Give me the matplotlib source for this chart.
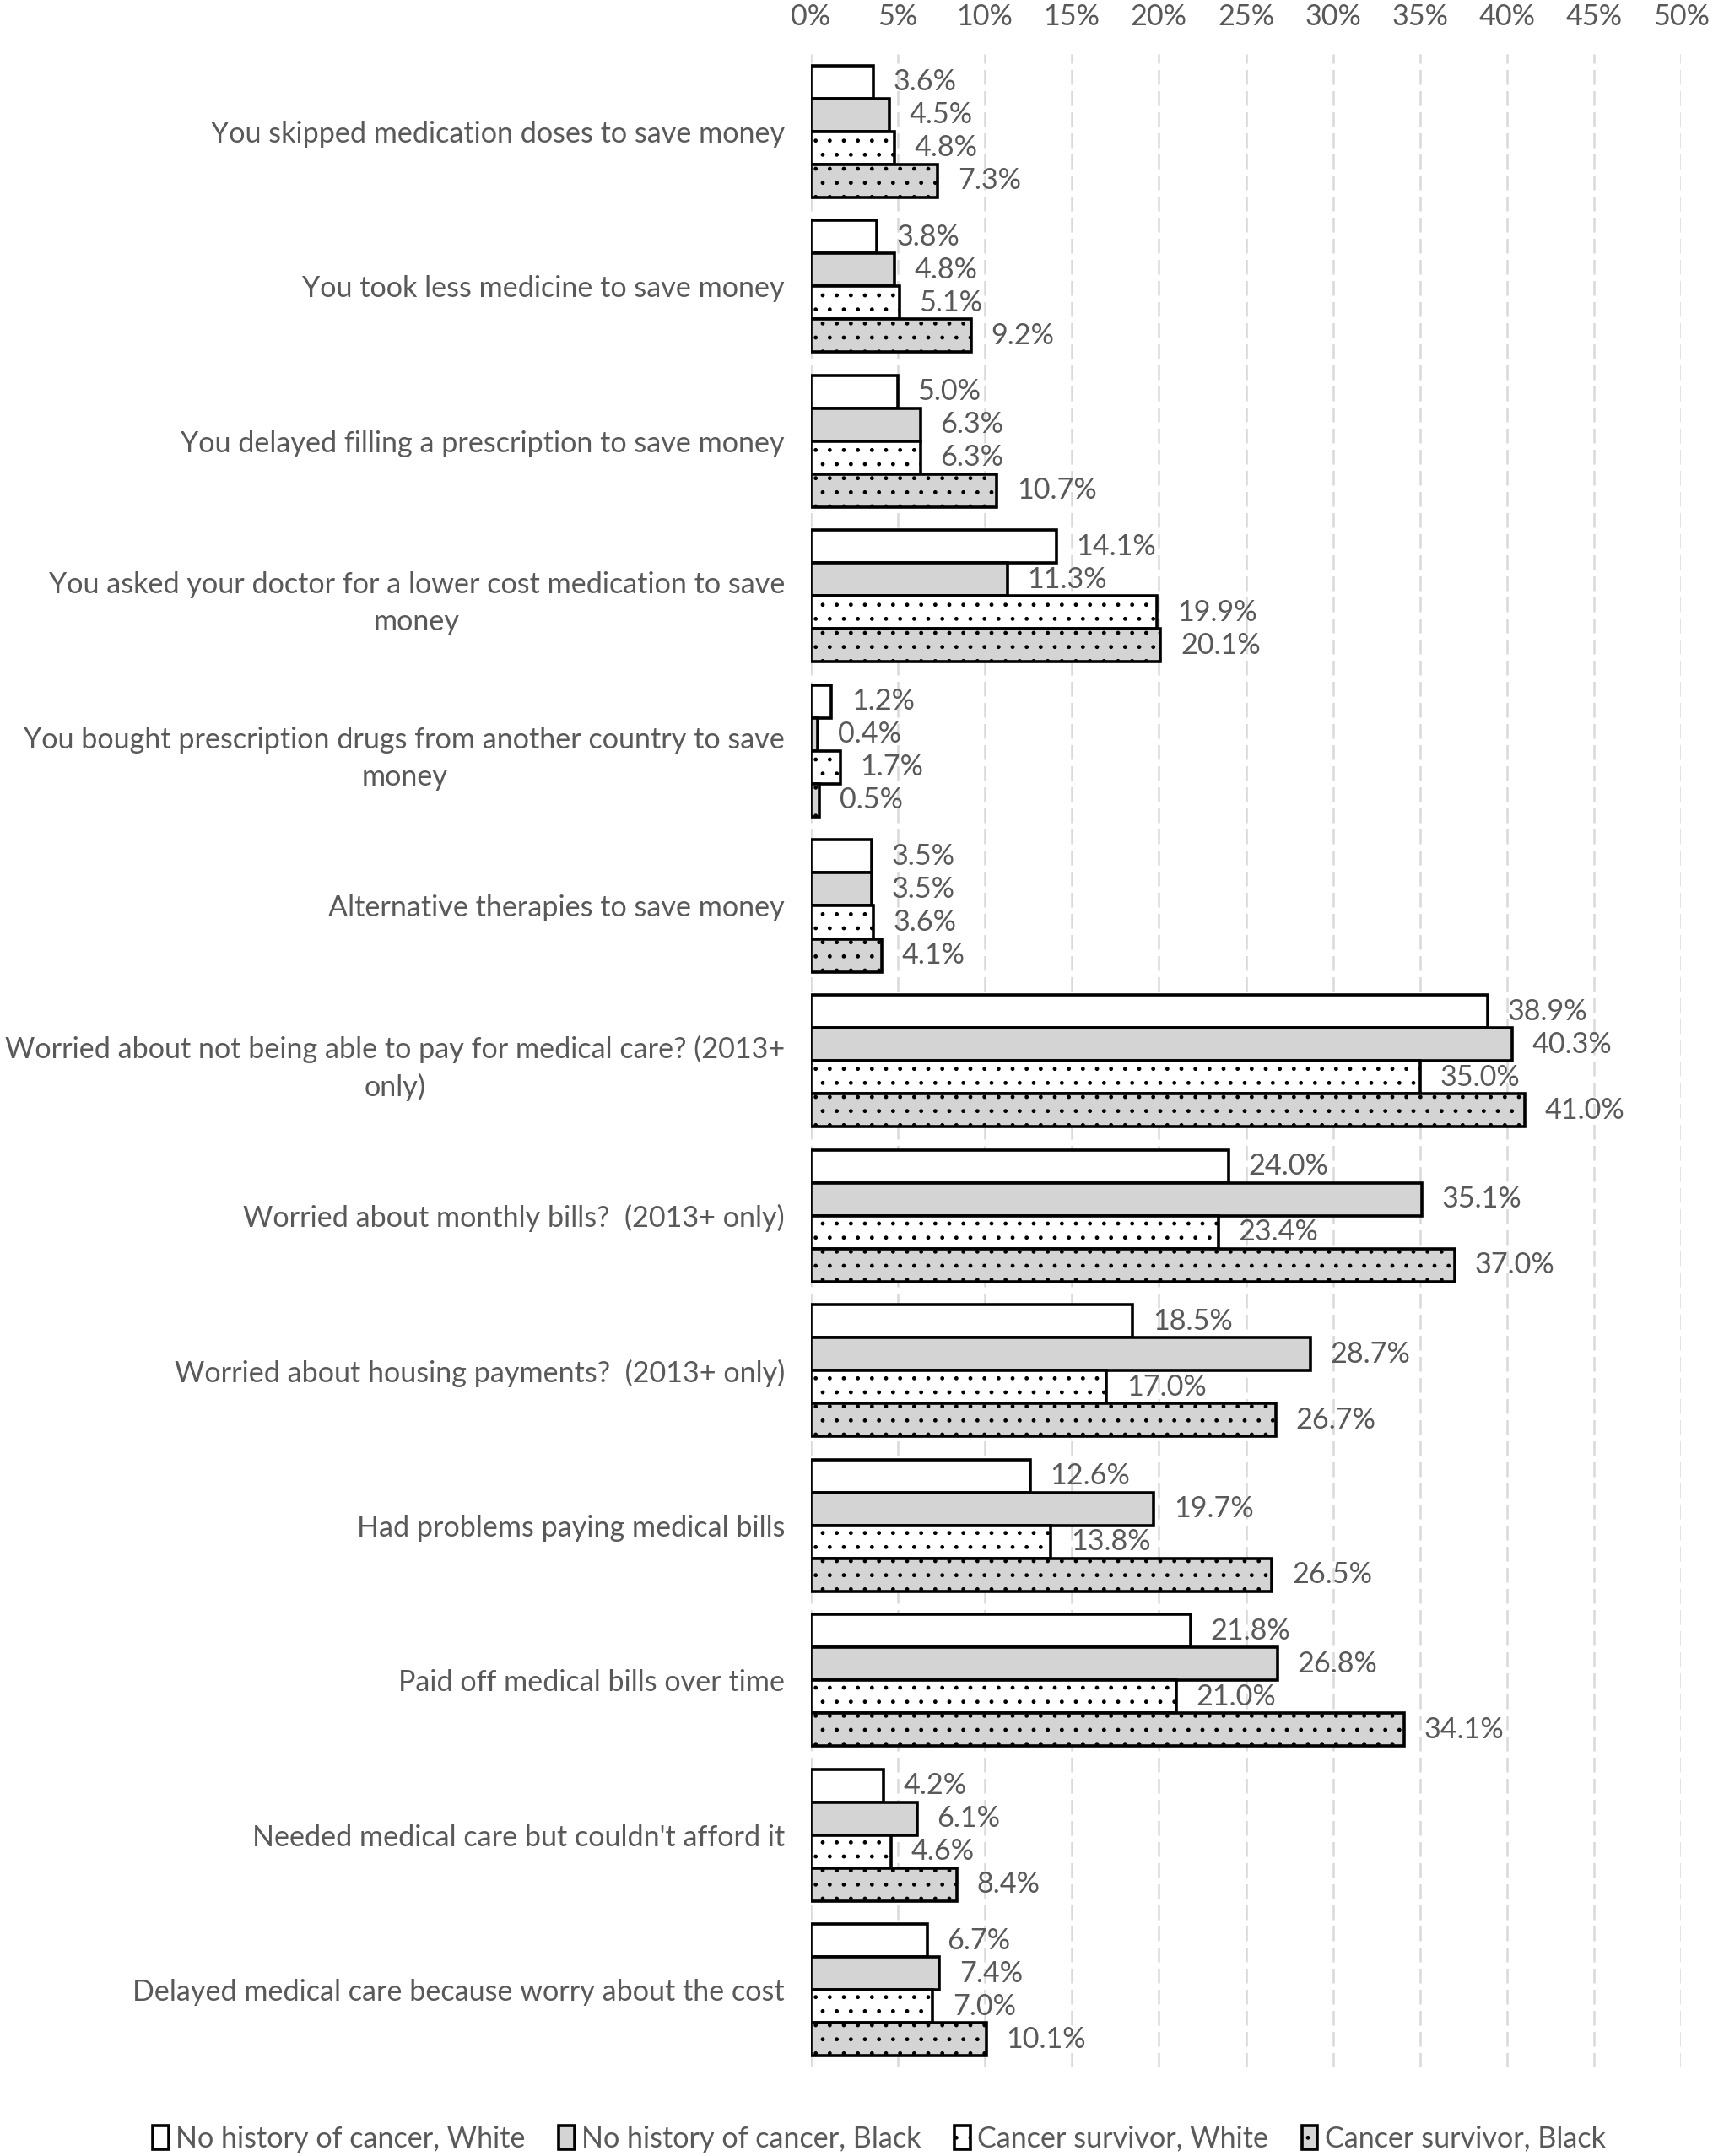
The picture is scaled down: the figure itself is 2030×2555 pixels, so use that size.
import matplotlib
matplotlib.use("Agg")
import matplotlib.pyplot as plt
import numpy as np

plt.rcParams['font.family'] = ['Lato', 'DejaVu Sans']
plt.rcParams['hatch.linewidth'] = 1.0

categories = [
    "You skipped medication doses to save money",
    "You took less medicine to save money",
    "You delayed filling a prescription to save money",
    "You asked your doctor for a lower cost medication to save\nmoney",
    "You bought prescription drugs from another country to save\nmoney",
    "Alternative therapies to save money",
    "Worried about not being able to pay for medical care? (2013+\nonly)",
    "Worried about monthly bills?  (2013+ only)",
    "Worried about housing payments?  (2013+ only)",
    "Had problems paying medical bills",
    "Paid off medical bills over time",
    "Needed medical care but couldn't afford it",
    "Delayed medical care because worry about the cost",
]

series_names = [
    "No history of cancer, White",
    "No history of cancer, Black",
    "Cancer survivor, White",
    "Cancer survivor, Black",
]

nohist_white = [3.6, 3.8, 5.0, 14.1, 1.2, 3.5, 38.9, 24.0, 18.5, 12.6, 21.8, 4.2, 6.7]
nohist_black = [4.5, 4.8, 6.3, 11.3, 0.4, 3.5, 40.3, 35.1, 28.7, 19.7, 26.8, 6.1, 7.4]
surv_white = [4.8, 5.1, 6.3, 19.9, 1.7, 3.6, 35.0, 23.4, 17.0, 13.8, 21.0, 4.6, 7.0]
surv_black = [7.3, 9.2, 10.7, 20.1, 0.5, 4.1, 41.0, 37.0, 26.7, 26.5, 34.1, 8.4, 10.1]

all_series = [nohist_white, nohist_black, surv_white, surv_black]
faces = ["white", "#d4d4d4", "white", "#d4d4d4"]
hatches = [None, None, ".", "."]

text_col = "#595959"
fs = 24.6

fig = plt.figure(figsize=(20.31, 25.55), dpi=100)
ax = fig.add_axes([0.473, 0.041, 0.508, 0.934])

y = np.arange(len(categories))
h = 0.2125
for k, vals in enumerate(all_series):
    pos = y + (k - 1.5) * h
    ax.barh(pos, vals, height=h, color=faces[k], edgecolor="black",
            linewidth=2.6, hatch=hatches[k], label=series_names[k], zorder=3)
    for p, v in zip(pos, vals):
        ax.annotate(f"{v:.1f}%", (v, p), xytext=(17, 0), textcoords="offset points",
                    ha="left", va="center", fontsize=fs, color=text_col, zorder=4)

ax.set_xlim(0, 50)
ax.set_ylim(12.5, -0.5)
ax.set_xticks(np.arange(0, 51, 5))
ax.set_xticklabels([f"{t}%" for t in range(0, 51, 5)])
ax.xaxis.tick_top()
ax.tick_params(axis="x", length=0, pad=20, labelsize=fs, labelcolor=text_col)
ax.set_yticks(y)
ax.set_yticklabels(categories)
ax.tick_params(axis="y", length=0, pad=22, labelsize=fs, labelcolor=text_col)
for lab in ax.get_yticklabels():
    lab.set_multialignment("center")
    lab.set_linespacing(1.45)

ax.grid(axis="x", color="#d9d9d9", linestyle=(0, (7, 3)), linewidth=1.8, zorder=0)
for s in ax.spines.values():
    s.set_visible(False)

leg = fig.legend(loc="center", bbox_to_anchor=(0.513, 0.008), ncol=4, frameon=False,
                 fontsize=fs, handlelength=0.55, handleheight=0.9, handletextpad=0.25,
                 columnspacing=1.15)
for t in leg.get_texts():
    t.set_color(text_col)

fig.savefig("out.png", dpi=100)
